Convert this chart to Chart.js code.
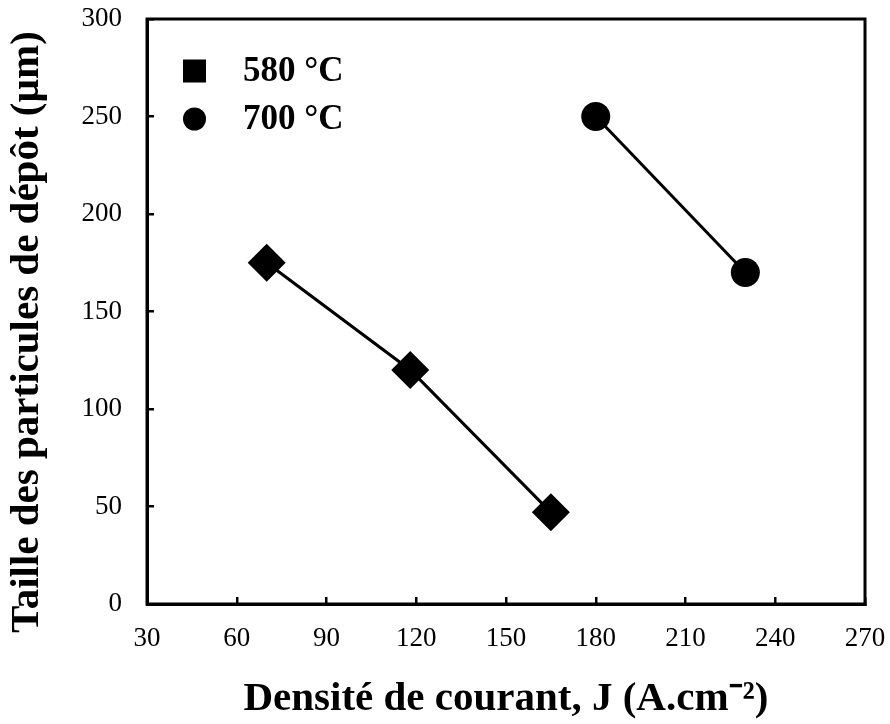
<!DOCTYPE html>
<html>
<head>
<meta charset="utf-8">
<script src="https://cdn.jsdelivr.net/npm/chart.js@4/dist/chart.umd.min.js"></script>
<style>
html,body{margin:0;padding:0;background:#fff;}
#wrap{width:890px;height:724px;}
</style>
</head>
<body>
<div id="wrap"><canvas id="c" width="890" height="724"></canvas></div>
<script>
// ---- data ----
const series580Label = '580 °C';
const series700Label = '700 °C';
const j580 = [70, 118, 165];
const size580 = [175, 120, 47];
const j700 = [180, 230];
const size700 = [250, 170];
const xTitle = 'Densité de courant, J (A.cm⁻²)';
const yTitle = 'Taille des particules de dépôt (µm)';
const xMin = 30, xMax = 270, xStep = 30;
const yMin = 0, yMax = 300, yStep = 50;

const toPts = (xs, ys) => xs.map((x, i) => ({x: x, y: ys[i]}));
const SERIF = '"Liberation Serif", "Times New Roman", serif';

const framePlugin = {
  id: 'frame',
  afterDraw(chart) {
    const {ctx, chartArea: a} = chart;
    ctx.save();
    ctx.strokeStyle = '#000';
    ctx.lineWidth = 3;
    ctx.strokeRect(a.left, a.top, a.right - a.left, a.bottom - a.top);
    // legend
    const items = [
      {label: chart.data.datasets[0].label, shape: 'square', dy: 52},
      {label: chart.data.datasets[1].label, shape: 'circle', dy: 100}
    ];
    ctx.fillStyle = '#000';
    ctx.font = 'bold 35px ' + SERIF;
    ctx.textBaseline = 'middle';
    ctx.textAlign = 'left';
    items.forEach(it => {
      const cx = a.left + 47.5, cy = a.top + it.dy;
      if (it.shape === 'square') {
        ctx.fillRect(cx - 11.5, cy - 11.5, 23, 23);
      } else {
        ctx.beginPath();
        ctx.arc(cx, cy, 11.5, 0, Math.PI * 2);
        ctx.fill();
      }
      ctx.fillText(it.label, a.left + 96, cy + 1);
    });
    ctx.restore();
  }
};

new Chart(document.getElementById('c'), {
  type: 'scatter',
  data: {
    datasets: [
      {
        label: series580Label,
        data: toPts(j580, size580),
        showLine: true,
        borderColor: '#000',
        borderWidth: 3,
        backgroundColor: '#000',
        pointStyle: 'rectRot',
        pointRadius: 19,
        pointHoverRadius: 19,
        pointBorderWidth: 0
      },
      {
        label: series700Label,
        data: toPts(j700, size700),
        showLine: true,
        borderColor: '#000',
        borderWidth: 3,
        backgroundColor: '#000',
        pointStyle: 'circle',
        pointRadius: 14.5,
        pointHoverRadius: 14.5,
        pointBorderWidth: 0
      }
    ]
  },
  options: {
    responsive: false,
    animation: false,
    layout: {padding: {left: 0, right: 25, top: 15, bottom: 0}},
    plugins: {
      legend: {display: false},
      tooltip: {enabled: false}
    },
    scales: {
      x: {
        type: 'linear',
        min: xMin, max: xMax,
        afterFit(s) { s.height = 120; s.paddingLeft = 0; s.paddingRight = 0; },
        ticks: {
          stepSize: xStep,
          color: '#000',
          padding: 26,
          font: {family: SERIF, size: 27}
        },
        grid: {display: true, drawOnChartArea: false, drawTicks: true, tickLength: -7, color: '#000', lineWidth: 2.5},
        border: {display: true, color: '#000', width: 3},
        title: {
          display: true,
          text: xTitle,
          color: '#000',
          padding: {top: 0, bottom: 0},
          font: {family: SERIF, size: 41, weight: 'bold'}
        }
      },
      y: {
        type: 'linear',
        min: yMin, max: yMax,
        afterFit(s) { s.width = 147; s.paddingTop = 0; s.paddingBottom = 0; },
        ticks: {
          stepSize: yStep,
          color: '#000',
          padding: 32,
          font: {family: SERIF, size: 27}
        },
        grid: {display: true, drawOnChartArea: false, drawTicks: true, tickLength: -7, color: '#000', lineWidth: 2.5},
        border: {display: true, color: '#000', width: 3},
        title: {
          display: true,
          text: yTitle + '    ',
          color: '#000',
          padding: {top: 3, bottom: 0},
          font: {family: SERIF, size: 41, weight: 'bold'}
        }
      }
    }
  },
  plugins: [framePlugin]
});
</script>
</body>
</html>
